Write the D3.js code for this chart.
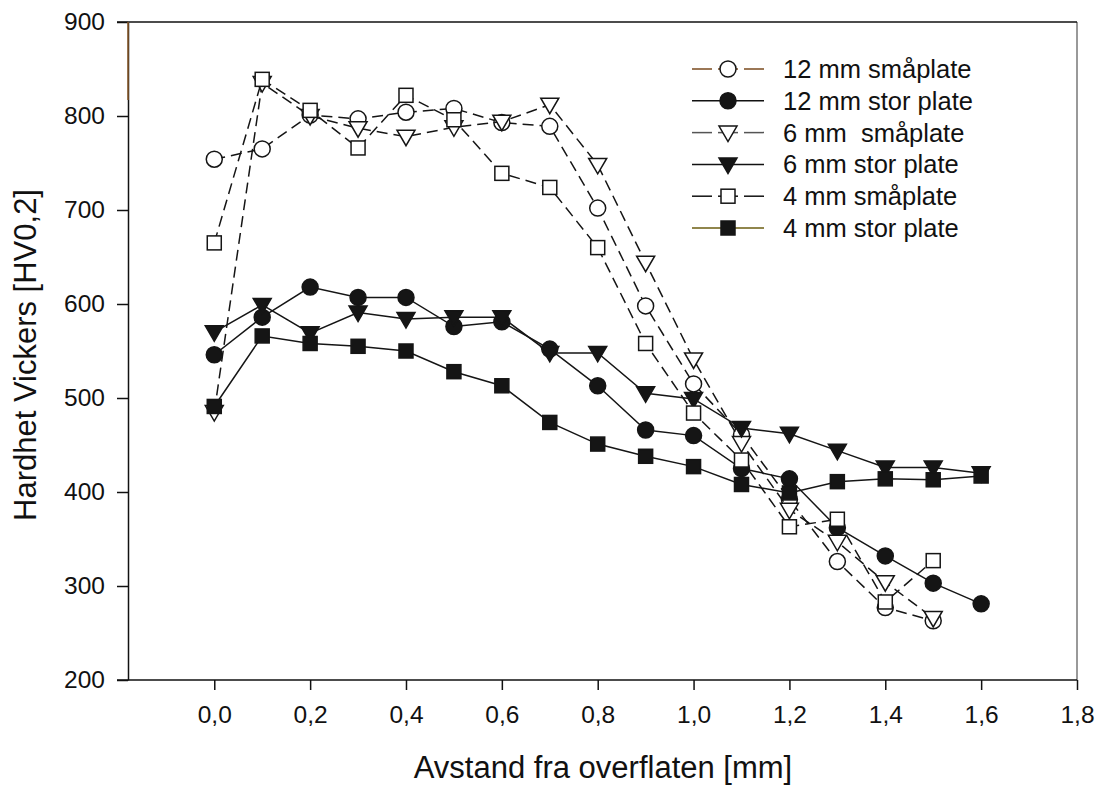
<!DOCTYPE html>
<html>
<head>
<meta charset="utf-8">
<script src="https://cdn.jsdelivr.net/npm/d3@7"></script>
<style>
  html, body { margin: 0; padding: 0; background: #fff; }
  svg { display: block; font-family: "Liberation Sans", Arial, sans-serif; }
</style>
</head>
<body>
<svg id="chart" width="1097" height="787"></svg>
<script>
// Distance from the surface [mm]
const depth = [0.0, 0.1, 0.2, 0.3, 0.4, 0.5, 0.6, 0.7, 0.8, 0.9, 1.0, 1.1, 1.2, 1.3, 1.4, 1.5, 1.6];

// Vickers hardness HV0,2 for each plate
const hv12Small = [754, 765, 801, 797, 804, 808, 793, 789, 702, 598, 515, 461, 392, 326, 277, 263];
const hv12Large = [546, 586, 618, 607, 607, 576, 581, 552, 513, 466, 460, 425, 414, 362, 332, 303, 281];
const hv6Small  = [485, 835, 800, 787, 778, 788, 794, 812, 748, 644, 541, 452, 381, 347, 304, 266];
const hv6Large  = [570, 599, 569, 591, 584, 586, 586, 548, 548, 505, 499, 468, 462, 444, 426, 426, 420];
const hv4Small  = [665, 839, 806, 766, 822, 796, 739, 724, 660, 558, 484, 434, 363, 371, 283, 327];
const hv4Large  = [491, 566, 558, 555, 550, 528, 513, 474, 451, 438, 427, 408, 399, 411, 414, 413, 417];

const seriesNames = ["12 mm småplate", "12 mm stor plate", "6 mm  småplate", "6 mm stor plate", "4 mm småplate", "4 mm stor plate"];
const xTicks = [0.0, 0.2, 0.4, 0.6, 0.8, 1.0, 1.2, 1.4, 1.6, 1.8];
const yTicks = [200, 300, 400, 500, 600, 700, 800, 900];

const series = [
  { name: seriesNames[0], values: hv12Small, shape: "circle",   filled: false, dashed: true,  legendColor: "#7a4a1e" },
  { name: seriesNames[1], values: hv12Large, shape: "circle",   filled: true,  dashed: false, legendColor: "#111" },
  { name: seriesNames[2], values: hv6Small,  shape: "triangle", filled: false, dashed: true,  legendColor: "#555" },
  { name: seriesNames[3], values: hv6Large,  shape: "triangle", filled: true,  dashed: false, legendColor: "#111" },
  { name: seriesNames[4], values: hv4Small,  shape: "square",   filled: false, dashed: true,  legendColor: "#111" },
  { name: seriesNames[5], values: hv4Large,  shape: "square",   filled: true,  dashed: false, legendColor: "#6b5e10" }
];

const svg = d3.select("#chart");
const plotLeft = 128, plotRight = 1077, plotTop = 22, plotBottom = 680;

const x = d3.scaleLinear().domain([-0.18, 1.8]).range([plotLeft, plotRight]);
const y = d3.scaleLinear().domain([200, 900]).range([plotBottom, plotTop]);

const fmt = v => d3.format(".1f")(v).replace(".", ",");

// frame: right border and top line
svg.append("line").attr("x1", plotRight).attr("x2", plotRight).attr("y1", plotTop).attr("y2", plotBottom)
  .attr("stroke", "#777").attr("stroke-width", 1.5);
svg.append("line").attr("x1", plotLeft - 11).attr("x2", plotRight).attr("y1", plotTop).attr("y2", plotTop)
  .attr("stroke", "#111").attr("stroke-width", 1.5);

// y axis
const yAxis = d3.axisLeft(y).tickValues(yTicks).tickSize(11).tickPadding(12).tickSizeOuter(0);
const gy = svg.append("g").attr("transform", `translate(${plotLeft},0)`).call(yAxis);
gy.select(".domain").attr("stroke", "#111").attr("stroke-width", 1.5);
gy.selectAll(".tick line").attr("stroke", "#111").attr("stroke-width", 1.5);
gy.selectAll(".tick text").attr("font-size", 24.5).attr("fill", "#111")
  .attr("font-family", "Liberation Sans, Arial, sans-serif");
// tinted upper part of the left axis
svg.append("line").attr("x1", plotLeft).attr("x2", plotLeft).attr("y1", plotTop).attr("y2", 100)
  .attr("stroke", "#8a5a2a").attr("stroke-width", 1.5);

// x axis
const xAxis = d3.axisBottom(x).tickValues(xTicks).tickFormat(fmt).tickSize(10).tickPadding(16).tickSizeOuter(0);
const gx = svg.append("g").attr("transform", `translate(0,${plotBottom})`).call(xAxis);
gx.select(".domain").remove();
gx.append("line").attr("x1", plotLeft - 11).attr("x2", plotRight).attr("y1", 0).attr("y2", 0)
  .attr("stroke", "#111").attr("stroke-width", 1.5);
gx.selectAll(".tick line").attr("stroke", "#111").attr("stroke-width", 1.5);
gx.selectAll(".tick text").attr("font-size", 24.5).attr("fill", "#111")
  .attr("font-family", "Liberation Sans, Arial, sans-serif");

// axis titles
svg.append("text").attr("x", 603).attr("y", 778)
  .attr("text-anchor", "middle").attr("font-size", 31).attr("fill", "#111")
  .text("Avstand fra overflaten [mm]");
svg.append("text").attr("transform", "translate(36,355) rotate(-90)")
  .attr("text-anchor", "middle").attr("font-size", 31).attr("fill", "#111")
  .text("Hardhet Vickers [HV0,2]");

// marker drawing
function drawMarker(g, shape, filled, cx, cy) {
  const fill = filled ? "#151515" : "#fff";
  const stroke = "#151515";
  if (shape === "circle") {
    g.append("circle").attr("cx", cx).attr("cy", cy).attr("r", 8)
      .attr("fill", fill).attr("stroke", stroke).attr("stroke-width", 1.5);
  } else if (shape === "square") {
    g.append("rect").attr("x", cx - 7).attr("y", cy - 7).attr("width", 14).attr("height", 14)
      .attr("fill", fill).attr("stroke", stroke).attr("stroke-width", 1.5);
  } else {
    const w = 9, hTop = 6.5, hBot = 9;
    g.append("path").attr("d", `M${cx - w},${cy - hTop}L${cx + w},${cy - hTop}L${cx},${cy + hBot}Z`)
      .attr("fill", fill).attr("stroke", stroke).attr("stroke-width", 1.5).attr("stroke-linejoin", "miter");
  }
}

const line = d3.line().x(d => x(d[0])).y(d => y(d[1]));

const plot = svg.append("g");
series.forEach(s => {
  const pts = s.values.map((v, i) => [depth[i], v]);
  const g = plot.append("g");
  g.append("path").attr("d", line(pts)).attr("fill", "none")
    .attr("stroke", "#151515").attr("stroke-width", 1.5)
    .attr("stroke-dasharray", s.dashed ? "11,6" : null);
  pts.forEach(p => drawMarker(g, s.shape, s.filled, x(p[0]), y(p[1])));
});

// legend
const legend = svg.append("g");
series.forEach((s, i) => {
  const ly = 69 + i * 31.8;
  const row = legend.append("g");
  if (s.dashed) {
    row.append("line").attr("x1", 692).attr("x2", 712).attr("y1", ly).attr("y2", ly)
      .attr("stroke", s.legendColor).attr("stroke-width", 1.5);
    row.append("line").attr("x1", 744).attr("x2", 764).attr("y1", ly).attr("y2", ly)
      .attr("stroke", s.legendColor).attr("stroke-width", 1.5);
    row.append("line").attr("x1", 718).attr("x2", 738).attr("y1", ly).attr("y2", ly)
      .attr("stroke", s.legendColor).attr("stroke-width", 1.5);
  } else {
    row.append("line").attr("x1", 692).attr("x2", 764).attr("y1", ly).attr("y2", ly)
      .attr("stroke", s.legendColor).attr("stroke-width", 1.5);
  }
  drawMarker(row, s.shape, s.filled, 728, ly);
  row.append("text").attr("x", 783).attr("y", ly).attr("dy", "0.35em")
    .attr("font-size", 25.5).attr("fill", "#111").attr("xml:space", "preserve")
    .style("white-space", "pre").text(s.name);
});
</script>
</body>
</html>
